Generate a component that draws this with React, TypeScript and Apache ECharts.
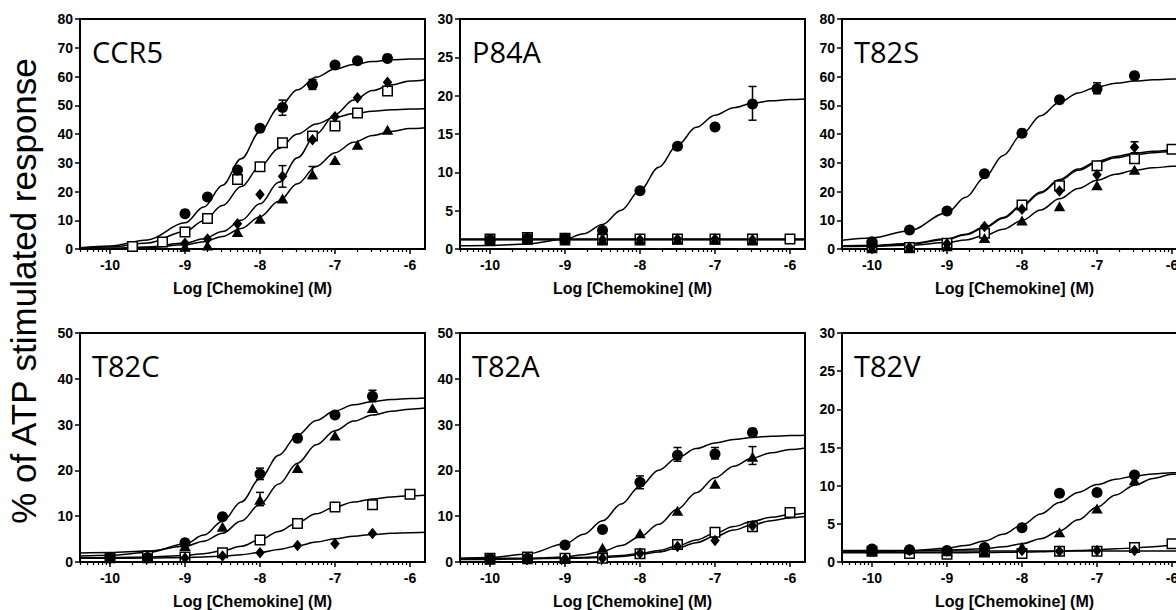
import React, { useEffect, useRef } from "react";
import * as echarts from "echarts";

// ---------- shared axes ----------
const X_MIN = -10.4;
const X_MAX = -5.8;
const X_MAJOR = [-10, -9, -8, -7, -6];
const X_NAME = "Log [Chemokine] (M)";
const Y_NAME = "% of ATP stimulated response";
const MINOR_TICKS: number[] = [];
for (let d = -11; d <= -7; d++) {
  for (let k = 2; k <= 9; k++) {
    const v = d + Math.log10(k);
    if (v >= X_MIN && v <= X_MAX) MINOR_TICKS.push(v);
  }
}

// x positions of measured points
const X_CCR5 = [-9.7, -9.3, -9, -8.7, -8.3, -8, -7.7, -7.3, -7, -6.7, -6.3];
const X_HALF = [-10, -9.5, -9, -8.5, -8, -7.5, -7, -6.5, -6];
// x positions where fitted curves were read
const CURVE_X = [-10.4, -10, -9.5, -9, -8.75, -8.5, -8.25, -8, -7.75, -7.5, -7.25, -7, -6.75, -6.5, -6.25, -6, -5.8];

// ---------- CCR5 ----------
const CCR5_CIRCLE = [null, null, 12.3, 18.1, 27.5, 42, 49.2, 57.2, 64, 65.5, 66.3];
const CCR5_SQUARE = [0.9, 2.4, 5.9, 10.6, 24.2, 28.6, 37, 39.3, 42.8, 47.3, 55];
const CCR5_DIAMOND = [null, null, 2.0, 3.5, 8.8, 19, 25.3, 38, 46, 52.6, 58];
const CCR5_TRIANGLE = [null, null, 0.8, 1.2, 5.9, 10.5, 17.6, 26, 31, 36.3, 41.5];
const CCR5_FIT_CIRCLE = [0.42, 1.04, 3.17, 9.1, 14.6, 22.2, 31.4, 40.8, 49.1, 55.4, 59.8, 62.6, 64.2, 65.2, 65.8, 66.1, 66.2];
const CCR5_FIT_SQUARE = [0.27, 0.68, 2.09, 6.06, 9.84, 15.1, 21.7, 28.7, 35.0, 40.0, 43.5, 45.8, 47.1, 47.9, 48.4, 48.7, 48.8];
const CCR5_FIT_DIAMOND = [0.09, 0.21, 0.67, 2.05, 3.57, 6.05, 9.98, 15.7, 23.2, 31.7, 40.0, 46.8, 51.8, 55.1, 57.1, 58.4, 58.9];
const CCR5_FIT_TRIANGLE = [0.06, 0.15, 0.48, 1.47, 2.56, 4.34, 7.15, 11.25, 16.6, 22.7, 28.7, 33.5, 37.1, 39.5, 40.9, 41.9, 42.2];
const CCR5_ERR = [[-7.7, 46.5, 51.8], [-7.3, 55.5, 59], [-7.7, 21.5, 29], [-7.3, 24.5, 28.7]];

// ---------- P84A ----------
const P84A_CIRCLE = [1.2, 1.4, 1.4, 2.4, 7.6, 13.4, 15.9, 18.9, null];
const P84A_SQUARE = [1.3, 1.5, 1.4, 1.3, 1.3, 1.3, 1.3, 1.3, 1.3];
const P84A_DIAMOND = [1.2, 1.3, 1.2, 1.2, 1.2, 1.3, 1.3, 1.2, null];
const P84A_TRIANGLE = [1.1, 1.2, 1.1, 1.1, 1.1, 1.2, 1.2, 1.1, null];
const P84A_FIT_CIRCLE = [0.43, 0.47, 0.66, 1.28, 2.0, 3.2, 5.07, 7.66, 10.66, 13.55, 15.87, 17.45, 18.44, 19.01, 19.33, 19.5, 19.58];
const P84A_FIT_SQUARE = [1.3, 1.3, 1.3, 1.3, 1.3, 1.3, 1.3, 1.3, 1.3, 1.3, 1.3, 1.3, 1.3, 1.3, 1.3, 1.3, 1.3];
const P84A_FIT_DIAMOND = [1.25, 1.25, 1.25, 1.25, 1.25, 1.25, 1.25, 1.25, 1.25, 1.25, 1.25, 1.25, 1.25, 1.25, 1.25, 1.25, 1.25];
const P84A_FIT_TRIANGLE = [1.2, 1.2, 1.2, 1.2, 1.2, 1.2, 1.2, 1.2, 1.2, 1.2, 1.2, 1.2, 1.2, 1.2, 1.2, 1.2, 1.2];
const P84A_ERR = [[-6.5, 16.8, 21.2]];

// ---------- T82S ----------
const T82S_CIRCLE = [2.5, 6.6, 13.2, 26.2, 40.3, 51.9, 55.7, 60.3, null];
const T82S_SQUARE = [1.0, 0.5, 2.0, 5.5, 15.3, 22.0, 29.0, 31.4, 34.7];
const T82S_DIAMOND = [0.8, 0.6, 1.8, 7.8, 13.8, 20.2, 25.8, 35.4, null];
const T82S_TRIANGLE = [0.3, 0.3, 1.0, 3.8, 9.9, 14.9, 22.2, 27.6, null];
const T82S_FIT_CIRCLE = [3.07, 3.85, 6.35, 12.64, 18.0, 24.86, 32.56, 40.0, 46.35, 51.05, 54.29, 56.37, 57.64, 58.4, 58.86, 59.13, 59.26];
const T82S_FIT_SQUARE = [1.13, 1.31, 1.9, 3.54, 5.17, 7.61, 11.0, 15.24, 19.85, 24.2, 27.8, 30.42, 32.19, 33.31, 34.0, 34.42, 34.62];
const T82S_FIT_DIAMOND = [0.93, 1.1, 1.69, 3.32, 4.93, 7.35, 10.71, 14.91, 19.49, 23.8, 27.36, 29.96, 31.71, 32.83, 33.51, 33.92, 34.12];
const T82S_FIT_TRIANGLE = [0.87, 0.97, 1.29, 2.22, 3.17, 4.67, 6.89, 9.91, 13.58, 17.49, 21.05, 23.92, 25.98, 27.36, 28.22, 28.74, 29.0];
const T82S_ERR = [[-7, 54, 57.8], [-6.5, 33.5, 37.3]];

// ---------- T82C ----------
const T82C_CIRCLE = [1.0, 1.0, 4.2, 9.9, 19.2, 27.0, 32.1, 36.2, null];
const T82C_SQUARE = [1.0, 1.3, 1.1, 2.0, 4.8, 8.4, 12.0, 12.5, 14.8];
const T82C_DIAMOND = [0.7, 0.8, 0.9, 1.3, 2.0, 3.6, 4.0, 6.2, null];
const T82C_TRIANGLE = [0.8, 0.8, 3.5, 7.7, 13.6, 20.5, 27.6, 33.6, null];
const T82C_FIT_CIRCLE = [1.3, 1.46, 2.06, 3.92, 5.88, 8.91, 13.12, 18.18, 23.32, 27.7, 30.91, 33.02, 34.31, 35.05, 35.48, 35.71, 35.82];
const T82C_FIT_SQUARE = [0.92, 0.96, 1.07, 1.43, 1.82, 2.46, 3.44, 4.86, 6.67, 8.65, 10.51, 12.01, 13.08, 13.78, 14.2, 14.46, 14.58];
const T82C_FIT_DIAMOND = [0.81, 0.82, 0.85, 0.96, 1.08, 1.28, 1.59, 2.07, 2.73, 3.54, 4.36, 5.08, 5.63, 6.02, 6.26, 6.4, 6.47];
const T82C_FIT_TRIANGLE = [1.96, 2.06, 2.4, 3.43, 4.53, 6.29, 8.95, 12.62, 17.03, 21.58, 25.59, 28.66, 30.76, 32.09, 32.9, 33.37, 33.6];
const T82C_ERR = [[-8, 18, 20.5], [-8, 12.3, 15.2], [-6.5, 35, 37.5]];

// ---------- T82A ----------
const T82A_CIRCLE = [0.7, 0.8, 3.7, 7.1, 17.4, 23.3, 23.6, 28.3, null];
const T82A_SQUARE = [0.8, 1.1, 0.8, 0.8, 1.8, 3.8, 6.5, 7.7, 10.8];
const T82A_DIAMOND = [0.5, 0.6, 0.7, 0.8, 1.9, 3.4, 4.7, 7.9, null];
const T82A_TRIANGLE = [0.5, 0.6, 0.7, 3.1, 6.3, 11.2, 17.1, 23.0, null];
const T82A_FIT_CIRCLE = [0.75, 0.98, 1.76, 3.97, 6.06, 8.99, 12.64, 16.53, 20.06, 22.82, 24.76, 26.0, 26.76, 27.2, 27.46, 27.61, 27.68];
const T82A_FIT_SQUARE = [0.8, 0.81, 0.84, 0.92, 1.0, 1.16, 1.42, 1.85, 2.53, 3.52, 4.82, 6.3, 7.73, 8.91, 9.78, 10.35, 10.65];
const T82A_FIT_DIAMOND = [0.7, 0.71, 0.73, 0.8, 0.87, 1.0, 1.22, 1.59, 2.18, 3.06, 4.23, 5.6, 6.97, 8.15, 9.02, 9.61, 9.92];
const T82A_FIT_TRIANGLE = [0.52, 0.56, 0.7, 1.11, 1.57, 2.34, 3.59, 5.52, 8.22, 11.56, 15.14, 18.38, 20.92, 22.7, 23.85, 24.54, 24.89];
const T82A_ERR = [[-8, 16, 18.8], [-7.5, 22, 25], [-7, 22.5, 25], [-6.5, 21.3, 25.2]];

// ---------- T82V ----------
const T82V_CIRCLE = [1.7, 1.6, 1.5, 1.9, 4.5, 9.0, 9.1, 11.4, null];
const T82V_SQUARE = [1.4, 1.1, 1.0, 1.3, 1.1, 1.4, 1.4, 1.9, 2.4];
const T82V_DIAMOND = [1.5, 1.5, 1.4, 1.4, 1.5, 1.4, 1.5, 1.5, null];
const T82V_TRIANGLE = [1.4, 1.7, 1.4, 1.4, 2.0, 3.9, 7.0, 10.7, null];
const T82V_FIT_CIRCLE = [1.32, 1.35, 1.47, 1.81, 2.17, 2.75, 3.63, 4.84, 6.3, 7.8, 9.12, 10.14, 10.83, 11.27, 11.54, 11.69, 11.77];
const T82V_FIT_SQUARE = [1.2, 1.2, 1.2, 1.21, 1.22, 1.24, 1.27, 1.3, 1.35, 1.42, 1.5, 1.6, 1.72, 1.85, 2.0, 2.2, 2.4];
const T82V_FIT_DIAMOND = [1.45, 1.45, 1.45, 1.45, 1.45, 1.45, 1.45, 1.45, 1.45, 1.45, 1.45, 1.45, 1.45, 1.45, 1.45, 1.45, 1.45];
const T82V_FIT_TRIANGLE = [1.5, 1.51, 1.52, 1.58, 1.64, 1.76, 1.99, 2.39, 3.05, 4.09, 5.52, 7.19, 8.79, 10.07, 10.95, 11.5, 11.77];
const T82V_ERR: number[][] = [];

// order of groups inside each panel: square, circle, diamond, triangle
const PANELS = [
  { title: "CCR5", yMax: 80, yStep: 10, x: X_CCR5,
    pts: [CCR5_SQUARE, CCR5_CIRCLE, CCR5_DIAMOND, CCR5_TRIANGLE],
    fits: [CCR5_FIT_SQUARE, CCR5_FIT_CIRCLE, CCR5_FIT_DIAMOND, CCR5_FIT_TRIANGLE], err: CCR5_ERR },
  { title: "P84A", yMax: 30, yStep: 5, x: X_HALF,
    pts: [P84A_SQUARE, P84A_CIRCLE, P84A_DIAMOND, P84A_TRIANGLE],
    fits: [P84A_FIT_SQUARE, P84A_FIT_CIRCLE, P84A_FIT_DIAMOND, P84A_FIT_TRIANGLE], err: P84A_ERR },
  { title: "T82S", yMax: 80, yStep: 10, x: X_HALF,
    pts: [T82S_SQUARE, T82S_CIRCLE, T82S_DIAMOND, T82S_TRIANGLE],
    fits: [T82S_FIT_SQUARE, T82S_FIT_CIRCLE, T82S_FIT_DIAMOND, T82S_FIT_TRIANGLE], err: T82S_ERR },
  { title: "T82C", yMax: 50, yStep: 10, x: X_HALF,
    pts: [T82C_SQUARE, T82C_CIRCLE, T82C_DIAMOND, T82C_TRIANGLE],
    fits: [T82C_FIT_SQUARE, T82C_FIT_CIRCLE, T82C_FIT_DIAMOND, T82C_FIT_TRIANGLE], err: T82C_ERR },
  { title: "T82A", yMax: 50, yStep: 10, x: X_HALF,
    pts: [T82A_SQUARE, T82A_CIRCLE, T82A_DIAMOND, T82A_TRIANGLE],
    fits: [T82A_FIT_SQUARE, T82A_FIT_CIRCLE, T82A_FIT_DIAMOND, T82A_FIT_TRIANGLE], err: T82A_ERR },
  { title: "T82V", yMax: 30, yStep: 5, x: X_HALF,
    pts: [T82V_SQUARE, T82V_CIRCLE, T82V_DIAMOND, T82V_TRIANGLE],
    fits: [T82V_FIT_SQUARE, T82V_FIT_CIRCLE, T82V_FIT_DIAMOND, T82V_FIT_TRIANGLE], err: T82V_ERR },
];

const MARKERS = [
  { symbol: "rect", size: 9.5, fill: "#fff", bw: 1.5 },
  { symbol: "circle", size: 11, fill: "#000", bw: 0 },
  { symbol: "diamond", size: [9.5, 11.5], fill: "#000", bw: 0 },
  { symbol: "triangle", size: [11.5, 10], fill: "#000", bw: 0 },
];

const GRID_LEFT = [80, 460, 842];
const GRID_TOP = [19, 333];
const GRID_W = 345;
const GRID_H = 230;
const SANS = "'Liberation Sans', Arial, Helvetica, sans-serif";

function buildOption() {
  const grid: any[] = [];
  const xAxis: any[] = [];
  const yAxis: any[] = [];
  const series: any[] = [];
  const graphic: any[] = [];

  PANELS.forEach((p, i) => {
    const col = i % 3;
    const row = Math.floor(i / 3);
    const left = GRID_LEFT[col];
    const top = GRID_TOP[row];
    grid.push({ left, top, width: GRID_W, height: GRID_H, show: true, borderColor: "#000", borderWidth: 2, backgroundColor: "transparent" });

    xAxis.push({
      gridIndex: i, type: "value", min: X_MIN, max: X_MAX, position: "bottom",
      axisLine: { show: true, onZero: false, lineStyle: { color: "#000", width: 2 } },
      axisTick: { show: true, customValues: X_MAJOR, length: 5, lineStyle: { color: "#000", width: 1.5 } },
      axisLabel: { customValues: X_MAJOR, color: "#000", fontWeight: "bold", fontSize: 14, fontFamily: SANS, margin: 9, formatter: (v: number) => String(v) },
      splitLine: { show: false },
      name: X_NAME, nameLocation: "middle", nameGap: 31,
      nameTextStyle: { color: "#000", fontWeight: "bold", fontSize: 16, fontFamily: SANS },
    });
    xAxis.push({
      gridIndex: i, type: "value", min: X_MIN, max: X_MAX, position: "bottom",
      axisLine: { show: false, onZero: false },
      axisTick: { show: true, customValues: MINOR_TICKS, length: 3, lineStyle: { color: "#000", width: 1.2 } },
      axisLabel: { show: false },
      splitLine: { show: false },
    });
    yAxis.push({
      gridIndex: i, type: "value", min: 0, max: p.yMax, interval: p.yStep,
      axisLine: { show: true, onZero: false, lineStyle: { color: "#000", width: 2 } },
      axisTick: { show: true, length: 5, lineStyle: { color: "#000", width: 1.5 } },
      axisLabel: { color: "#000", fontWeight: "bold", fontSize: 14, fontFamily: SANS, margin: 7 },
      splitLine: { show: false },
    });

    const xIdx = 2 * i;
    p.fits.forEach((fit) => {
      series.push({
        type: "line", xAxisIndex: xIdx, yAxisIndex: i, z: 2, silent: true,
        data: CURVE_X.map((x, k) => [x, fit[k]]),
        showSymbol: false, symbol: "none", smooth: 0.35, smoothMonotone: "x",
        lineStyle: { color: "#000", width: 1.5 },
      });
    });
    if (p.err.length) {
      series.push({
        type: "custom", xAxisIndex: xIdx, yAxisIndex: i, z: 3, silent: true,
        data: p.err, encode: { x: 0, y: [1, 2] },
        renderItem: (_params: any, api: any) => {
          const lo = api.coord([api.value(0), api.value(1)]);
          const hi = api.coord([api.value(0), api.value(2)]);
          const w = 4;
          const st = { stroke: "#000", lineWidth: 1.5 };
          return {
            type: "group",
            children: [
              { type: "line", shape: { x1: lo[0], y1: lo[1], x2: hi[0], y2: hi[1] }, style: st },
              { type: "line", shape: { x1: hi[0] - w, y1: hi[1], x2: hi[0] + w, y2: hi[1] }, style: st },
              { type: "line", shape: { x1: lo[0] - w, y1: lo[1], x2: lo[0] + w, y2: lo[1] }, style: st },
            ],
          };
        },
      });
    }
    p.pts.forEach((vals, g) => {
      const m = MARKERS[g];
      const data: number[][] = [];
      p.x.forEach((x, k) => {
        const v = vals[k];
        if (v !== null && v !== undefined) data.push([x, v as number]);
      });
      series.push({
        type: "scatter", xAxisIndex: xIdx, yAxisIndex: i, z: 4 + g, silent: true,
        data, symbol: m.symbol, symbolSize: m.size,
        itemStyle: { color: m.fill, borderColor: "#000", borderWidth: m.bw, opacity: 1 },
      });
    });

    graphic.push({
      type: "text", x: left + 12, y: top + 32, z: 10,
      style: { text: p.title, fontSize: 29, fontFamily: "'Open Sans', sans-serif", fill: "#000", align: "left", verticalAlign: "middle" },
    });
  });

  graphic.push({
    type: "text", x: 23, y: 291, rotation: Math.PI / 2, z: 10,
    style: { text: Y_NAME, fontSize: 35, fontFamily: SANS, fill: "#000", align: "center", verticalAlign: "middle" },
  });

  return { animation: false, backgroundColor: "#fff", grid, xAxis, yAxis, series, graphic };
}

export default function App() {
  const ref = useRef<HTMLDivElement>(null);
  useEffect(() => {
    if (!ref.current) return;
    const chart = echarts.init(ref.current, null, { renderer: "svg" });
    chart.setOption(buildOption() as any);
    return () => chart.dispose();
  }, []);
  return (
    <div style={{ position: "fixed", left: 0, top: 0, width: 1176, height: 610, overflow: "hidden", background: "#fff" }}>
      <div ref={ref} style={{ width: 1200, height: 610 }} />
    </div>
  );
}
